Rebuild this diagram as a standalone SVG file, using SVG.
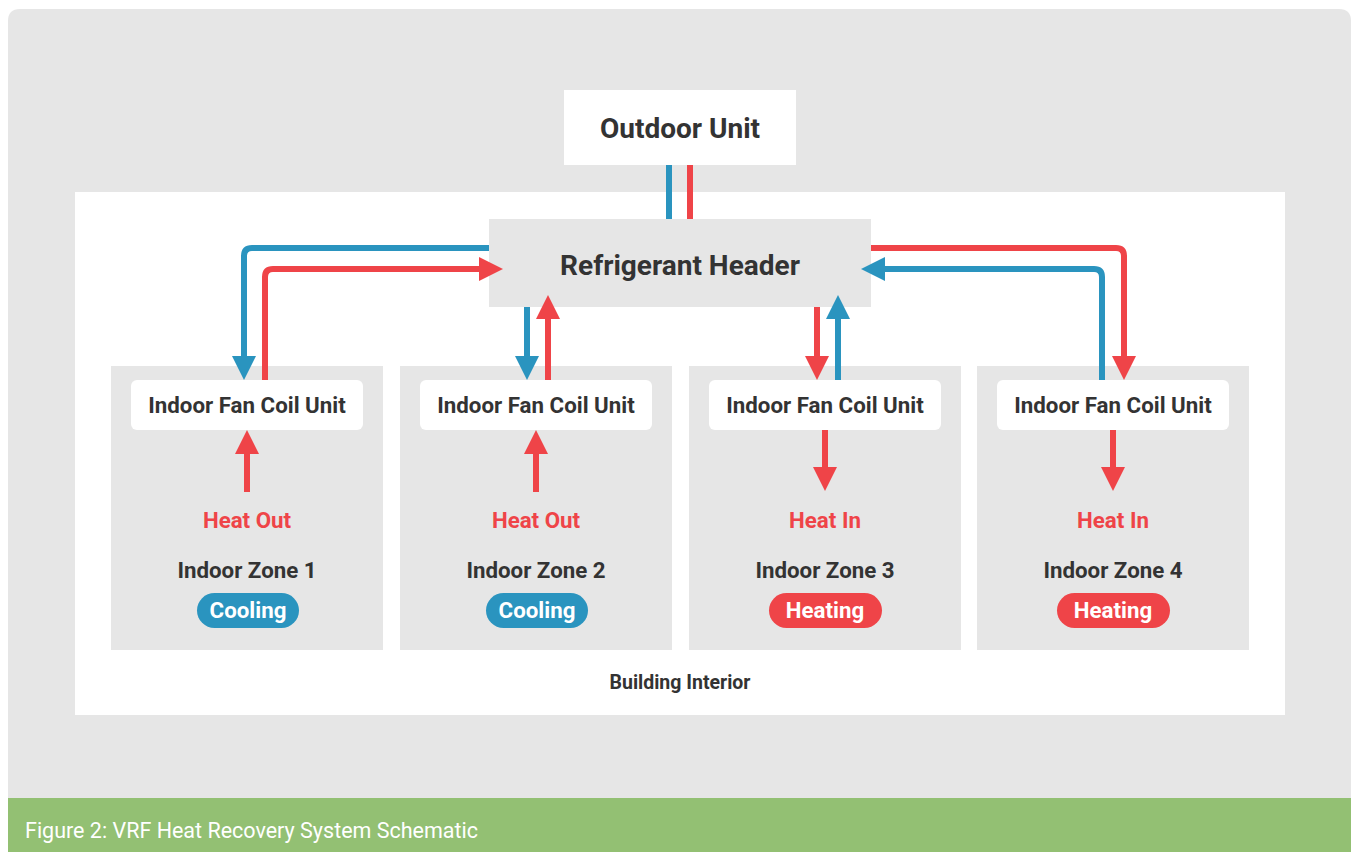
<svg xmlns="http://www.w3.org/2000/svg" width="1353" height="852" viewBox="0 0 1353 852">
<defs>
<style>
.t{font-family:Roboto,"Liberation Sans",sans-serif;font-weight:bold;text-anchor:middle}
.dark{fill:#333333}
.redt{fill:#ef4448}
.wt{fill:#ffffff}
.zone{fill:#e6e6e6}
.fcu{fill:#ffffff}
.pb{fill:none;stroke:#2a94bf;stroke-width:6}
.pr{fill:none;stroke:#ef4448;stroke-width:6}
</style>
<marker id="ab" viewBox="0 0 24 24" refX="2" refY="12" markerWidth="24" markerHeight="24" markerUnits="userSpaceOnUse" orient="auto"><path d="M0,0 L24,12 L0,24 z" fill="#2a94bf"/></marker>
<marker id="ar" viewBox="0 0 24 24" refX="2" refY="12" markerWidth="24" markerHeight="24" markerUnits="userSpaceOnUse" orient="auto"><path d="M0,0 L24,12 L0,24 z" fill="#ef4448"/></marker>
</defs>
<rect x="0" y="0" width="1353" height="852" fill="#ffffff"/>
<path d="M8,21 Q8,9 20,9 H1339 Q1351,9 1351,21 V810 H8 Z" fill="#e6e6e6"/>
<rect x="8" y="798" width="1343" height="54" fill="#93c073"/>
<text x="25" y="838" font-family="Roboto,'Liberation Sans',sans-serif" font-size="21.5" fill="#ffffff">Figure 2: VRF Heat Recovery System Schematic</text>

<rect id="building" x="75" y="192" width="1210" height="523" fill="#ffffff"/>
<text class="t dark" x="680" y="689" font-size="19.5">Building Interior</text>

<g id="outdoor-unit">
<rect x="564" y="90" width="232" height="75" fill="#ffffff"/>
<text class="t dark" x="680" y="138" font-size="28">Outdoor Unit</text>
</g>
<g id="refrigerant-header">
<rect x="489" y="219" width="382" height="88" fill="#e6e6e6"/>
<text class="t dark" x="680" y="275" font-size="28">Refrigerant Header</text>
</g>

<g id="zone1">
<rect class="zone" x="111" y="366" width="272" height="284"/>
<rect class="fcu" x="131" y="380" width="232" height="50" rx="6"/>
<text class="t dark" x="247" y="413" font-size="22.3">Indoor Fan Coil Unit</text>
<text class="t redt" x="247" y="528" font-size="22.3">Heat Out</text>
<text class="t dark" x="247" y="578" font-size="22.3">Indoor Zone 1</text>
<rect x="197" y="593" width="102" height="35" rx="17.5" fill="#2a94bf"/>
<text class="t wt" x="248" y="618" font-size="22.3">Cooling</text>
</g>
<g id="zone2">
<rect class="zone" x="400" y="366" width="272" height="284"/>
<rect class="fcu" x="420" y="380" width="232" height="50" rx="6"/>
<text class="t dark" x="536" y="413" font-size="22.3">Indoor Fan Coil Unit</text>
<text class="t redt" x="536" y="528" font-size="22.3">Heat Out</text>
<text class="t dark" x="536" y="578" font-size="22.3">Indoor Zone 2</text>
<rect x="486" y="593" width="102" height="35" rx="17.5" fill="#2a94bf"/>
<text class="t wt" x="537" y="618" font-size="22.3">Cooling</text>
</g>
<g id="zone3">
<rect class="zone" x="689" y="366" width="272" height="284"/>
<rect class="fcu" x="709" y="380" width="232" height="50" rx="6"/>
<text class="t dark" x="825" y="413" font-size="22.3">Indoor Fan Coil Unit</text>
<text class="t redt" x="825" y="528" font-size="22.3">Heat In</text>
<text class="t dark" x="825" y="578" font-size="22.3">Indoor Zone 3</text>
<rect x="769" y="593" width="113" height="35" rx="17.5" fill="#ef4448"/>
<text class="t wt" x="825" y="618" font-size="22.3">Heating</text>
</g>
<g id="zone4">
<rect class="zone" x="977" y="366" width="272" height="284"/>
<rect class="fcu" x="997" y="380" width="232" height="50" rx="6"/>
<text class="t dark" x="1113" y="413" font-size="22.3">Indoor Fan Coil Unit</text>
<text class="t redt" x="1113" y="528" font-size="22.3">Heat In</text>
<text class="t dark" x="1113" y="578" font-size="22.3">Indoor Zone 4</text>
<rect x="1057" y="593" width="113" height="35" rx="17.5" fill="#ef4448"/>
<text class="t wt" x="1113" y="618" font-size="22.3">Heating</text>
</g>

<g id="connectors">
<path class="pb" d="M669,165 V219"/>
<path class="pr" d="M690,165 V219"/>
<path class="pb" d="M489,248 H252 Q244,248 244,256 V358" marker-end="url(#ab)"/>
<path class="pr" d="M265,380 V277 Q265,269 273,269 H481" marker-end="url(#ar)"/>
<path class="pb" d="M527,307 V358" marker-end="url(#ab)"/>
<path class="pr" d="M548,380 V317" marker-end="url(#ar)"/>
<path class="pr" d="M817,307 V358" marker-end="url(#ar)"/>
<path class="pb" d="M838,380 V317" marker-end="url(#ab)"/>
<path class="pr" d="M871,248 H1116 Q1124,248 1124,256 V358" marker-end="url(#ar)"/>
<path class="pb" d="M1102,380 V277 Q1102,269 1094,269 H883" marker-end="url(#ab)"/>
<path class="pr" d="M247,492 V452" marker-end="url(#ar)"/>
<path class="pr" d="M536,492 V452" marker-end="url(#ar)"/>
<path class="pr" d="M825,430 V469" marker-end="url(#ar)"/>
<path class="pr" d="M1113,430 V469" marker-end="url(#ar)"/>
</g>
</svg>
